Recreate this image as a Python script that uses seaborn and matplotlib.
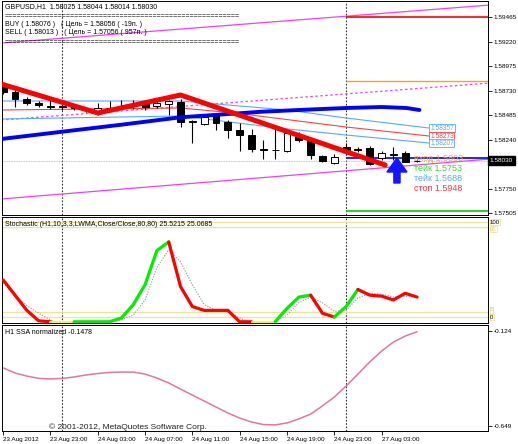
import numpy as np
import pandas as pd
import matplotlib
matplotlib.use("Agg")
import matplotlib.pyplot as plt
from matplotlib.patches import Polygon
import seaborn as sns

# ---------------- data ----------------
bars = list(range(36))
opens  = [1.58785,1.58715,1.58645,1.58605,1.58575,1.58570,1.58565,1.58540,1.58515,1.58555,
          1.58560,1.58575,1.58595,1.58575,1.58595,1.58615,1.58415,1.58395,1.58485,1.58415,
          1.58335,1.58285,1.58145,1.58140,1.58125,1.58275,1.58225,1.58075,1.58005,1.58165,
          1.58140,1.58155,1.58055,1.58090,1.58105,1.58025]
highs  = [1.58805,1.58735,1.58665,1.58625,1.58635,1.58615,1.58585,1.58555,1.58605,1.58625,
          1.58635,1.58635,1.58615,1.58625,1.58635,1.58645,1.58435,1.58475,1.58505,1.58435,
          1.58405,1.58345,1.58235,1.58385,1.58315,1.58315,1.58245,1.58085,1.58095,1.58205,
          1.58165,1.58175,1.58125,1.58165,1.58125,1.58044]
lows   = [1.58695,1.58565,1.58585,1.58565,1.58545,1.58535,1.58535,1.58515,1.58485,1.58525,
          1.58545,1.58545,1.58535,1.58555,1.58485,1.58365,1.58205,1.58385,1.58335,1.58255,
          1.58125,1.58115,1.58045,1.58045,1.58115,1.58215,1.58045,1.58015,1.57995,1.58085,
          1.58115,1.57985,1.58035,1.58035,1.58014,1.58014]
closes = [1.58715,1.58645,1.58605,1.58585,1.58570,1.58575,1.58555,1.58535,1.58555,1.58560,
          1.58570,1.58580,1.58565,1.58605,1.58625,1.58415,1.58425,1.58465,1.58405,1.58335,
          1.58285,1.58145,1.58140,1.58135,1.58305,1.58235,1.58085,1.58025,1.58065,1.58135,
          1.58145,1.57995,1.58105,1.58095,1.58020,1.58030]

time_label_bars = [0, 4, 8, 12, 16, 20, 24, 28, 32]
time_labels = ["23 Aug 2012", "23 Aug 23:00", "24 Aug 03:00", "24 Aug 07:00", "24 Aug 11:00",
               "24 Aug 15:00", "24 Aug 19:00", "24 Aug 23:00", "27 Aug 03:00"]
separator_bars = [5, 29]

price_ticks = [1.59465, 1.59220, 1.58975, 1.58730, 1.58485, 1.58240, 1.57750, 1.57505]
bid_price = 1.58030

zigzag_bars = [-0.17, 8, 15, 32.3]
zigzag_prices = [1.58795, 1.58505, 1.58685, 1.57985]

ma_bars = [-0.17, 5, 10, 15, 21.9, 25, 29, 32, 34.1, 35.2]
ma_prices = [1.58245, 1.58318, 1.58388, 1.58462, 1.58518, 1.58535, 1.58555, 1.58565, 1.58555, 1.58535]

band_up_bars = [-0.17, 15, 17, 24, 29, 36]
band_up = [1.58625, 1.58625, 1.58605, 1.58535, 1.58455, 1.58355]
band_mid_bars = [-0.17, 15, 19.6, 29, 36]
band_mid = [1.58535, 1.58555, 1.58505, 1.58365, 1.58275]
band_lo_bars = [-0.17, 15, 23.3, 29, 36]
band_lo = [1.58445, 1.58475, 1.58355, 1.58285, 1.58205]
band_labels = ["1.58357", "1.58273", "1.58207"]

channel_bars = [-0.17, 41.2]
channel_top = [1.59205, 1.59585]
channel_mid = [1.58435, 1.58805]
channel_bot = [1.57645, 1.58045]

level_stop = 1.59470
level_entry_orange = 1.58825
level_target = 1.57525
level_buy_target = 1.58056

arrow_bar = 33.3
arrow_tip = 1.58055

stoch_main = [39, 23, 7, -4, -5, -5, -5, -5, -5, -5, -1, 13, 34, 70, 79, 32, 11, 7, 7, 7,
              -5, -5, -5, -5, 9, 21, 23, 4, 0, 11, 29, 23, 22, 18, 25, 21]
stoch_signal = [36, 23, 12, 4, -3, -9, -9, -9, -9, -6, -3, 2, 18, 52, 71, 58, 34, 13, 7, 5,
                -1, -6, -7, -5, 2, 15, 21, 15, 6, 7, 20, 25, 24, 21, 22, 21]
# colour runs of the stochastic main line: (start bar, end bar, colour)
stoch_runs = [(0, 4, "red"), (4, 6, "yellow"), (6, 14, "green"), (14, 21, "red"),
              (21, 23, "yellow"), (23, 26, "green"), (26, 28, "red"), (28, 30, "green"),
              (30, 35, "red")]
stoch_levels = [100, 95, 5, 0]

ssa = [-0.328, -0.356, -0.373, -0.386, -0.389, -0.386, -0.378, -0.367, -0.359, -0.353,
       -0.351, -0.351, -0.362, -0.384, -0.411, -0.445, -0.478, -0.511, -0.544, -0.577,
       -0.605, -0.627, -0.641, -0.643, -0.632, -0.610, -0.583, -0.538, -0.489, -0.428,
       -0.362, -0.295, -0.235, -0.185, -0.152, -0.128]
ssa_ticks = [-0.124, -0.649]

trade_labels = ["вход 1.5803", "тейк 1.5753", "тейк 1.5688", "стоп 1.5948"]
trade_label_prices = [1.58050, 1.57950, 1.57850, 1.57750]

# ---------------- style ----------------
sns.set_theme(style="white")
plt.rcParams["font.family"] = ["Liberation Sans", "DejaVu Sans"]
plt.rcParams["axes.edgecolor"] = "black"
plt.rcParams["axes.linewidth"] = 0.7

W, H = 518, 444
fig = plt.figure(figsize=(W / 100, H / 100), dpi=100)
fig.patch.set_facecolor("white")

def px_axes(left, top, right, bottom):
    return fig.add_axes([left / W, 1 - bottom / H, (right - left) / W, (bottom - top) / H])

ax = px_axes(2, 1, 488, 215)
ax2 = px_axes(2, 217, 488, 323)
ax3 = px_axes(2, 325, 488, 431)

XL = (-0.1, 41.0)
colors_map = {"red": "#ff0000", "green": "#00ee00", "yellow": "#ffff00"}
TICK_FS = 4.6

for a in (ax, ax2, ax3):
    a.set_xlim(*XL)
    a.set_facecolor("white")
    for s in a.spines.values():
        s.set_color("black")
        s.set_linewidth(0.7)
    a.yaxis.tick_right()
    a.tick_params(axis="y", direction="out", length=3, width=0.6, labelsize=TICK_FS, pad=1.0,
                  colors="black", right=True, left=False)
    for sb in separator_bars:
        a.axvline(sb, color="#303030", lw=0.8, ls=(0, (1.5, 1.5)), zorder=1)

# ---------- main panel ----------
ax.set_ylim(1.57485, 1.59625)
ax.set_xticks([])
ax.set_yticks(price_ticks)
ax.set_yticklabels([f"{p:.5f}" for p in price_ticks])

mag = "#f040f0"
sns.lineplot(x=channel_bars, y=channel_top, ax=ax, color=mag, lw=0.9, estimator=None)
sns.lineplot(x=channel_bars, y=channel_bot, ax=ax, color=mag, lw=0.9, estimator=None)
ax.plot(channel_bars, channel_mid, color=mag, lw=0.9, ls=(0, (2, 2)))

ax.axhline(bid_price, color="#b0b0b0", lw=0.6, ls=(0, (1, 1)), zorder=1)

sep = separator_bars[-1]
ax.hlines(level_stop, sep, XL[1], color="#ff0000", lw=1.2)
ax.hlines(level_entry_orange, sep, XL[1], color="#ffa500", lw=1.0)
ax.hlines(level_target, sep, XL[1], color="#00cc00", lw=1.2)
ax.hlines(level_buy_target, sep, XL[1], color="#1010ff", lw=1.3, zorder=2)

sns.lineplot(x=band_up_bars, y=band_up, ax=ax, color="#55aaff", lw=0.8, estimator=None)
sns.lineplot(x=band_mid_bars, y=band_mid, ax=ax, color="#ff4040", lw=0.8, estimator=None)
sns.lineplot(x=band_lo_bars, y=band_lo, ax=ax, color="#55aaff", lw=0.8, estimator=None)

# candles
body_w = 0.58
for i, o, h, l, c in zip(bars, opens, highs, lows, closes):
    ax.vlines(i, l, h, color="black", lw=0.8, zorder=4)
    bottom = min(o, c)
    height = max(abs(c - o), 0.00001)
    fc = "white" if c > o else "black"
    ax.bar(i, height, bottom=bottom, width=body_w, color=fc, edgecolor="black", lw=0.7, zorder=5)

sns.lineplot(x=ma_bars, y=ma_prices, ax=ax, color="#0000ff", lw=2.8, estimator=None, zorder=6)
sns.lineplot(x=zigzag_bars, y=zigzag_prices, ax=ax, color="#ff0000", lw=3.6, estimator=None, zorder=7)

# band value labels
for lbl, val, col in zip(band_labels, [band_up[-1], band_mid[-1], band_lo[-1]],
                         ["#55aaff", "#ff4040", "#55aaff"]):
    ax.text(36.1, val, lbl, fontsize=4.8, color=col, va="center", ha="left", zorder=8,
            bbox=dict(facecolor="white", edgecolor=col, lw=0.6, pad=0.5))

# arrow (bar / price based)
hw, hl, sw, tl = 0.85, 0.0014, 0.26, 0.0025
arrow = Polygon([(arrow_bar, arrow_tip), (arrow_bar + hw, arrow_tip - hl),
                 (arrow_bar + sw, arrow_tip - hl), (arrow_bar + sw, arrow_tip - tl),
                 (arrow_bar - sw, arrow_tip - tl), (arrow_bar - sw, arrow_tip - hl),
                 (arrow_bar - hw, arrow_tip - hl)], closed=True, color="#1414ff", zorder=9)
ax.add_patch(arrow)

# trade texts
trade_colors = ["#f5a840", "#33dd33", "#55aaff", "#ff3344"]
for t, col, yv in zip(trade_labels, trade_colors, trade_label_prices):
    ax.text(34.75, yv, t, fontsize=6.5, color=col, va="center", ha="left", zorder=10)

# current price label
ax.text(1.004, bid_price, f"{bid_price:.5f}", transform=ax.get_yaxis_transform(),
        fontsize=TICK_FS, color="white", va="center", ha="left", zorder=11, clip_on=False,
        bbox=dict(facecolor="black", edgecolor="black", pad=1.2))

# header texts
def ftxt(x, y, s, **kw):
    fig.text(x / W, 1 - y / H, s, va="center", ha="left", fontsize=5, color="black", **kw)

ftxt(5, 7, "GBPUSD,H1  1.58025 1.58044 1.58014 1.58030")
ftxt(5, 16.5, "=" * 57)
ftxt(5, 24.5, "BUY ( 1.58076 )   ( Цель = 1.58056 ( -19п. )")
ftxt(5, 33, "SELL ( 1.58013 )   ( Цель = 1.57056 ( 957п. )")
ftxt(5, 43, "=" * 57)

# ---------- stochastic ----------
ax2.set_ylim(-6.3, 105.3)
ax2.set_xticks([])
ax2.set_yticks([])
for lv in stoch_levels:
    ax2.axhline(lv, color="#eee39a", lw=0.9, zorder=2)
sns.lineplot(x=bars, y=stoch_signal, ax=ax2, color="#a0a0a0", lw=0.8, ls=(0, (1.2, 1.2)),
             estimator=None, zorder=3)
for s0, s1, cname in stoch_runs:
    sns.lineplot(x=bars[s0:s1 + 1], y=stoch_main[s0:s1 + 1], ax=ax2, color=colors_map[cname],
                 lw=2.3, estimator=None, zorder=4)
lvl_style = {100: ("black", "center"), 95: ("#d8d080", "top"),
             5: ("#d8d080", "bottom"), 0: ("black", "center")}
for lv in stoch_levels:
    col, va = lvl_style[lv]
    ax2.text(1.004, lv, str(lv), transform=ax2.get_yaxis_transform(), fontsize=4.3, color=col,
             va=va, ha="left", clip_on=False,
             bbox=dict(facecolor="white", edgecolor="#eee39a", lw=0.6, pad=0.2))
ax2.text(0.006, 0.925, "Stochastic (H1,10,3,3,LWMA,Close/Close,80,80) 25.5215 25.0685",
         transform=ax2.transAxes, fontsize=5, color="black", va="center", ha="left")

# ---------- SSA ----------
ax3.set_ylim(-0.6766, -0.0908)
ax3.set_yticks(ssa_ticks)
ax3.set_yticklabels([f"{v:.3f}" for v in ssa_ticks])
sns.lineplot(x=bars, y=ssa, ax=ax3, color="#e07898", lw=1.1, estimator=None)
ax3.set_xticks(time_label_bars)
ax3.set_xticklabels(time_labels)
ax3.tick_params(axis="x", direction="out", length=3, width=0.6, labelsize=TICK_FS, pad=1.5,
                bottom=True, colors="black")
for lab in ax3.get_xticklabels():
    lab.set_ha("left")
ax3.text(0.006, 0.925, "H1 SSA normalized -0.1478", transform=ax3.transAxes, fontsize=5,
         color="black", va="center", ha="left")
ax3.text(3.9, -0.655, "© 2001-2012, MetaQuotes Software Corp.", fontsize=6, color="#202020",
         va="center", ha="left")

for a in (ax, ax2, ax3):
    a.set_xlabel("")
    a.set_ylabel("")
    if a.get_legend():
        a.get_legend().remove()

fig.savefig("out.png", dpi=100, facecolor="white")
